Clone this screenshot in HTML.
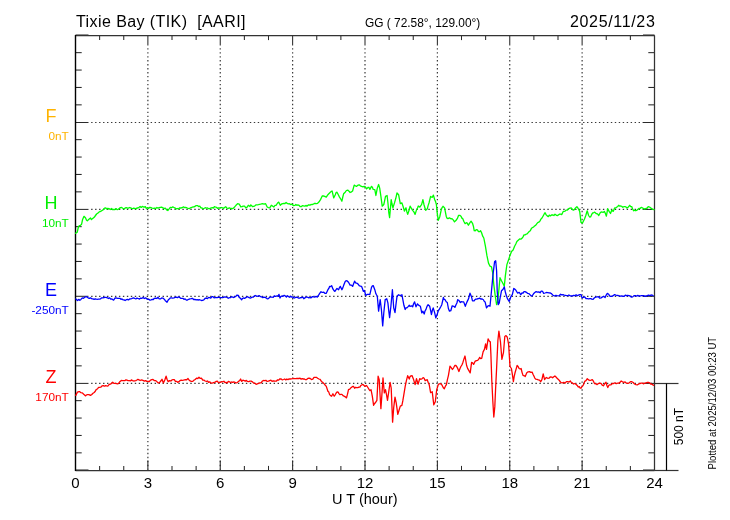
<!DOCTYPE html>
<html><head><meta charset="utf-8"><title>Tixie Bay magnetogram</title><style>
html,body{margin:0;padding:0;background:#fff;width:730px;height:520px;overflow:hidden}
svg{display:block}
text{font-family:"Liberation Sans",Arial,Helvetica,sans-serif;fill:#000}
.dot{stroke:#383838;stroke-width:1.2;fill:none}
.tk{stroke:#2a2a2a;stroke-width:1.05;fill:none}
.fr{stroke:#333;stroke-width:1.25;fill:none}
.frl{stroke:#000;stroke-width:1.4;fill:none}
.sb{stroke:#000;stroke-width:1.2;fill:none}
.sbh{stroke:#333;stroke-width:1.2;fill:none}
.tr{fill:none;stroke-width:1.3;stroke-linejoin:round;stroke-linecap:round}
</style></head><body>
<svg width="730" height="520" viewBox="0 0 730 520">
<g><line x1="91.15" y1="122.50" x2="653.50" y2="122.50" class="dot" stroke-dasharray="1.4 2.567"/>
<line x1="91.15" y1="209.40" x2="653.50" y2="209.40" class="dot" stroke-dasharray="1.4 2.567"/>
<line x1="91.15" y1="296.30" x2="653.50" y2="296.30" class="dot" stroke-dasharray="1.4 2.567"/>
<line x1="91.15" y1="383.40" x2="653.50" y2="383.40" class="dot" stroke-dasharray="1.4 2.567"/>
<line x1="147.88" y1="48.2" x2="147.88" y2="469.5" class="dot" stroke-dasharray="1.4 2.567"/>
<line x1="220.25" y1="48.2" x2="220.25" y2="469.5" class="dot" stroke-dasharray="1.4 2.567"/>
<line x1="292.62" y1="48.2" x2="292.62" y2="469.5" class="dot" stroke-dasharray="1.4 2.567"/>
<line x1="365.00" y1="48.2" x2="365.00" y2="469.5" class="dot" stroke-dasharray="1.4 2.567"/>
<line x1="437.38" y1="48.2" x2="437.38" y2="469.5" class="dot" stroke-dasharray="1.4 2.567"/>
<line x1="509.75" y1="48.2" x2="509.75" y2="469.5" class="dot" stroke-dasharray="1.4 2.567"/>
<line x1="582.12" y1="48.2" x2="582.12" y2="469.5" class="dot" stroke-dasharray="1.4 2.567"/>
<line x1="75.5" y1="35.00" x2="88.5" y2="35.00" class="tk"/>
<line x1="643.0" y1="35.00" x2="654.5" y2="35.00" class="tk"/>
<line x1="75.5" y1="52.65" x2="81.7" y2="52.65" class="tk"/>
<line x1="648.3" y1="52.65" x2="654.5" y2="52.65" class="tk"/>
<line x1="75.5" y1="70.05" x2="81.7" y2="70.05" class="tk"/>
<line x1="648.3" y1="70.05" x2="654.5" y2="70.05" class="tk"/>
<line x1="75.5" y1="87.45" x2="81.7" y2="87.45" class="tk"/>
<line x1="648.3" y1="87.45" x2="654.5" y2="87.45" class="tk"/>
<line x1="75.5" y1="104.85" x2="81.7" y2="104.85" class="tk"/>
<line x1="648.3" y1="104.85" x2="654.5" y2="104.85" class="tk"/>
<line x1="75.5" y1="122.50" x2="88.5" y2="122.50" class="tk"/>
<line x1="643.0" y1="122.50" x2="654.5" y2="122.50" class="tk"/>
<line x1="75.5" y1="139.65" x2="81.7" y2="139.65" class="tk"/>
<line x1="648.3" y1="139.65" x2="654.5" y2="139.65" class="tk"/>
<line x1="75.5" y1="157.05" x2="81.7" y2="157.05" class="tk"/>
<line x1="648.3" y1="157.05" x2="654.5" y2="157.05" class="tk"/>
<line x1="75.5" y1="174.45" x2="81.7" y2="174.45" class="tk"/>
<line x1="648.3" y1="174.45" x2="654.5" y2="174.45" class="tk"/>
<line x1="75.5" y1="191.85" x2="81.7" y2="191.85" class="tk"/>
<line x1="648.3" y1="191.85" x2="654.5" y2="191.85" class="tk"/>
<line x1="75.5" y1="209.40" x2="88.5" y2="209.40" class="tk"/>
<line x1="643.0" y1="209.40" x2="654.5" y2="209.40" class="tk"/>
<line x1="75.5" y1="226.65" x2="81.7" y2="226.65" class="tk"/>
<line x1="648.3" y1="226.65" x2="654.5" y2="226.65" class="tk"/>
<line x1="75.5" y1="244.05" x2="81.7" y2="244.05" class="tk"/>
<line x1="648.3" y1="244.05" x2="654.5" y2="244.05" class="tk"/>
<line x1="75.5" y1="261.45" x2="81.7" y2="261.45" class="tk"/>
<line x1="648.3" y1="261.45" x2="654.5" y2="261.45" class="tk"/>
<line x1="75.5" y1="278.85" x2="81.7" y2="278.85" class="tk"/>
<line x1="648.3" y1="278.85" x2="654.5" y2="278.85" class="tk"/>
<line x1="75.5" y1="296.30" x2="88.5" y2="296.30" class="tk"/>
<line x1="643.0" y1="296.30" x2="654.5" y2="296.30" class="tk"/>
<line x1="75.5" y1="313.65" x2="81.7" y2="313.65" class="tk"/>
<line x1="648.3" y1="313.65" x2="654.5" y2="313.65" class="tk"/>
<line x1="75.5" y1="331.05" x2="81.7" y2="331.05" class="tk"/>
<line x1="648.3" y1="331.05" x2="654.5" y2="331.05" class="tk"/>
<line x1="75.5" y1="348.45" x2="81.7" y2="348.45" class="tk"/>
<line x1="648.3" y1="348.45" x2="654.5" y2="348.45" class="tk"/>
<line x1="75.5" y1="365.85" x2="81.7" y2="365.85" class="tk"/>
<line x1="648.3" y1="365.85" x2="654.5" y2="365.85" class="tk"/>
<line x1="75.5" y1="383.40" x2="88.5" y2="383.40" class="tk"/>
<line x1="643.0" y1="383.40" x2="654.5" y2="383.40" class="tk"/>
<line x1="75.5" y1="400.65" x2="81.7" y2="400.65" class="tk"/>
<line x1="648.3" y1="400.65" x2="654.5" y2="400.65" class="tk"/>
<line x1="75.5" y1="418.05" x2="81.7" y2="418.05" class="tk"/>
<line x1="648.3" y1="418.05" x2="654.5" y2="418.05" class="tk"/>
<line x1="75.5" y1="435.45" x2="81.7" y2="435.45" class="tk"/>
<line x1="648.3" y1="435.45" x2="654.5" y2="435.45" class="tk"/>
<line x1="75.5" y1="452.85" x2="81.7" y2="452.85" class="tk"/>
<line x1="648.3" y1="452.85" x2="654.5" y2="452.85" class="tk"/>
<line x1="75.5" y1="470.00" x2="88.5" y2="470.00" class="tk"/>
<line x1="643.0" y1="470.00" x2="654.5" y2="470.00" class="tk"/>
<line x1="75.50" y1="470.5" x2="75.50" y2="460.5" class="tk"/>
<line x1="75.50" y1="35.5" x2="75.50" y2="45.5" class="tk"/>
<line x1="99.62" y1="470.5" x2="99.62" y2="465.9" class="tk"/>
<line x1="99.62" y1="35.5" x2="99.62" y2="40.1" class="tk"/>
<line x1="123.75" y1="470.5" x2="123.75" y2="465.9" class="tk"/>
<line x1="123.75" y1="35.5" x2="123.75" y2="40.1" class="tk"/>
<line x1="147.88" y1="470.5" x2="147.88" y2="460.5" class="tk"/>
<line x1="147.88" y1="35.5" x2="147.88" y2="45.5" class="tk"/>
<line x1="172.00" y1="470.5" x2="172.00" y2="465.9" class="tk"/>
<line x1="172.00" y1="35.5" x2="172.00" y2="40.1" class="tk"/>
<line x1="196.12" y1="470.5" x2="196.12" y2="465.9" class="tk"/>
<line x1="196.12" y1="35.5" x2="196.12" y2="40.1" class="tk"/>
<line x1="220.25" y1="470.5" x2="220.25" y2="460.5" class="tk"/>
<line x1="220.25" y1="35.5" x2="220.25" y2="45.5" class="tk"/>
<line x1="244.38" y1="470.5" x2="244.38" y2="465.9" class="tk"/>
<line x1="244.38" y1="35.5" x2="244.38" y2="40.1" class="tk"/>
<line x1="268.50" y1="470.5" x2="268.50" y2="465.9" class="tk"/>
<line x1="268.50" y1="35.5" x2="268.50" y2="40.1" class="tk"/>
<line x1="292.62" y1="470.5" x2="292.62" y2="460.5" class="tk"/>
<line x1="292.62" y1="35.5" x2="292.62" y2="45.5" class="tk"/>
<line x1="316.75" y1="470.5" x2="316.75" y2="465.9" class="tk"/>
<line x1="316.75" y1="35.5" x2="316.75" y2="40.1" class="tk"/>
<line x1="340.88" y1="470.5" x2="340.88" y2="465.9" class="tk"/>
<line x1="340.88" y1="35.5" x2="340.88" y2="40.1" class="tk"/>
<line x1="365.00" y1="470.5" x2="365.00" y2="460.5" class="tk"/>
<line x1="365.00" y1="35.5" x2="365.00" y2="45.5" class="tk"/>
<line x1="389.12" y1="470.5" x2="389.12" y2="465.9" class="tk"/>
<line x1="389.12" y1="35.5" x2="389.12" y2="40.1" class="tk"/>
<line x1="413.25" y1="470.5" x2="413.25" y2="465.9" class="tk"/>
<line x1="413.25" y1="35.5" x2="413.25" y2="40.1" class="tk"/>
<line x1="437.38" y1="470.5" x2="437.38" y2="460.5" class="tk"/>
<line x1="437.38" y1="35.5" x2="437.38" y2="45.5" class="tk"/>
<line x1="461.50" y1="470.5" x2="461.50" y2="465.9" class="tk"/>
<line x1="461.50" y1="35.5" x2="461.50" y2="40.1" class="tk"/>
<line x1="485.62" y1="470.5" x2="485.62" y2="465.9" class="tk"/>
<line x1="485.62" y1="35.5" x2="485.62" y2="40.1" class="tk"/>
<line x1="509.75" y1="470.5" x2="509.75" y2="460.5" class="tk"/>
<line x1="509.75" y1="35.5" x2="509.75" y2="45.5" class="tk"/>
<line x1="533.88" y1="470.5" x2="533.88" y2="465.9" class="tk"/>
<line x1="533.88" y1="35.5" x2="533.88" y2="40.1" class="tk"/>
<line x1="558.00" y1="470.5" x2="558.00" y2="465.9" class="tk"/>
<line x1="558.00" y1="35.5" x2="558.00" y2="40.1" class="tk"/>
<line x1="582.12" y1="470.5" x2="582.12" y2="460.5" class="tk"/>
<line x1="582.12" y1="35.5" x2="582.12" y2="45.5" class="tk"/>
<line x1="606.25" y1="470.5" x2="606.25" y2="465.9" class="tk"/>
<line x1="606.25" y1="35.5" x2="606.25" y2="40.1" class="tk"/>
<line x1="630.38" y1="470.5" x2="630.38" y2="465.9" class="tk"/>
<line x1="630.38" y1="35.5" x2="630.38" y2="40.1" class="tk"/>
<line x1="654.50" y1="470.5" x2="654.50" y2="460.5" class="tk"/>
<line x1="654.50" y1="35.5" x2="654.50" y2="45.5" class="tk"/>
<line x1="75.5" y1="35.5" x2="654.5" y2="35.5" class="fr"/>
<line x1="75.5" y1="470.5" x2="654.5" y2="470.5" class="fr"/>
<line x1="654.5" y1="35.5" x2="654.5" y2="470.5" class="fr"/>
<line x1="75.5" y1="35.0" x2="75.5" y2="471.0" class="frl"/>
<line x1="654.5" y1="383.5" x2="678.5" y2="383.5" class="sbh"/>
<line x1="654.5" y1="470.5" x2="678.5" y2="470.5" class="sbh"/>
<line x1="666.5" y1="383.5" x2="666.5" y2="470.5" class="sb"/>
<polyline points="75.6,233.3 77.2,232.3 78.4,227.0 79.3,225.7 80.2,225.6 81.6,224.2 82.6,219.5 84.0,216.3 85.6,218.0 86.4,220.0 87.3,220.9 88.9,219.3 90.5,218.0 91.4,219.6 93.0,218.3 94.2,217.3 95.5,215.5 96.6,214.0 97.7,213.3 98.8,212.2 99.9,211.5 100.9,211.3 102.0,210.5 102.8,210.2 103.7,208.9 104.7,208.1 105.8,207.8 106.8,209.1 107.8,208.4 109.0,208.6 110.2,209.5 111.5,208.5 112.7,209.7 113.8,209.4 114.9,209.6 116.0,208.6 117.1,209.6 118.2,209.3 119.3,208.4 120.5,207.6 121.6,207.5 122.8,208.3 124.0,209.0 125.2,208.0 126.3,207.7 127.5,208.1 128.5,208.1 129.6,207.5 130.6,207.9 131.7,208.4 132.7,208.6 133.7,208.2 134.8,208.3 135.8,208.9 136.9,208.0 138.0,208.0 139.1,207.3 140.1,206.4 141.2,207.4 142.3,206.4 143.3,206.8 144.3,207.2 145.3,206.7 146.3,208.4 147.3,207.8 148.5,208.5 149.8,207.3 151.0,207.7 152.2,208.1 153.4,208.4 154.5,208.2 155.7,208.5 156.9,207.5 158.1,208.1 159.2,207.7 160.4,207.3 161.6,207.2 162.9,207.8 164.1,208.6 165.3,208.1 166.6,209.9 167.8,210.5 169.1,208.9 170.3,207.3 171.5,207.7 172.8,206.9 174.0,207.5 175.2,208.1 176.3,208.9 177.4,208.5 178.5,208.9 179.7,207.8 180.9,208.0 182.2,207.7 183.4,206.9 184.4,207.5 185.4,207.3 186.4,207.7 187.4,208.1 188.4,208.4 189.5,208.6 190.5,207.8 191.6,207.5 192.7,207.0 193.8,206.8 194.9,206.5 196.1,205.6 197.4,205.6 198.6,206.6 199.8,206.2 200.9,207.8 202.0,208.0 203.1,208.6 204.2,208.3 205.3,207.7 206.4,208.1 207.6,208.0 208.9,208.8 210.1,208.3 211.3,207.8 212.3,207.7 213.4,208.0 214.4,206.7 215.4,207.0 216.4,207.3 217.4,208.3 218.5,208.0 219.5,208.1 220.5,207.9 221.5,207.5 222.5,207.8 223.5,208.4 224.5,207.5 225.7,206.7 226.9,208.1 228.2,208.3 229.4,207.8 230.4,208.5 231.4,208.4 232.5,208.6 233.5,208.1 234.8,206.7 236.0,205.3 237.6,203.7 239.2,204.2 240.1,205.7 240.9,207.0 242.2,206.5 243.4,206.2 244.6,206.2 245.8,207.8 247.1,207.2 248.3,205.3 249.9,206.5 250.8,204.9 252.4,206.5 253.7,206.3 254.9,205.8 256.1,204.8 257.3,204.9 258.4,204.7 259.5,204.4 260.6,204.2 261.6,203.9 262.6,203.7 263.6,204.0 264.6,204.0 265.6,203.7 267.2,207.0 268.4,207.6 269.7,207.8 271.3,205.3 272.6,206.1 273.8,207.0 275.0,205.3 276.2,205.3 277.4,203.2 278.7,202.1 280.3,205.3 281.6,204.0 282.8,203.7 283.9,203.4 285.0,203.5 286.1,202.5 287.2,203.4 288.3,203.8 289.4,203.7 290.5,204.6 291.6,204.1 292.7,204.9 293.7,205.6 294.8,205.4 295.8,204.5 296.8,205.3 297.9,204.9 299.0,205.3 300.1,206.5 301.2,206.7 302.3,205.6 303.4,205.8 304.9,206.2 305.9,205.4 306.9,206.1 307.9,205.4 308.9,204.7 309.9,205.3 311.0,204.4 312.1,204.6 313.2,204.2 314.3,203.5 315.3,203.5 316.4,203.7 317.6,203.3 318.9,202.1 320.5,199.6 321.4,197.7 322.2,196.0 323.4,195.8 324.7,196.3 326.3,197.1 327.9,194.7 328.8,193.8 329.6,193.0 331.2,191.4 332.1,191.0 333.7,197.9 335.3,194.7 336.1,192.6 337.0,192.2 338.2,194.5 339.5,197.1 340.7,199.0 341.9,201.2 342.8,197.0 343.6,193.8 345.2,192.2 346.4,190.5 347.7,190.1 349.3,191.4 350.1,192.5 351.0,192.2 352.6,191.0 354.2,185.1 355.4,185.8 356.7,186.4 357.9,185.1 359.2,184.8 360.4,185.8 361.6,186.4 362.9,186.9 364.1,186.4 365.4,186.8 366.6,188.9 368.2,187.3 369.0,187.5 369.9,189.4 371.5,186.4 372.4,187.3 373.2,189.4 374.8,189.7 375.9,195.5 377.3,188.1 378.6,184.5 379.7,188.1 380.9,196.3 382.2,206.2 383.8,204.5 384.6,200.8 385.5,196.3 387.1,195.5 388.0,203.5 388.8,212.7 389.6,217.7 391.2,199.6 392.0,204.0 392.9,207.8 394.5,202.9 395.8,198.3 397.0,193.0 398.6,194.7 399.5,199.3 400.3,203.7 401.9,202.9 403.1,206.5 404.4,211.1 406.0,207.8 406.9,211.9 407.7,214.4 408.9,210.8 410.1,206.2 411.4,208.3 412.6,210.3 413.9,211.9 415.1,214.4 416.6,209.6 417.5,208.1 418.3,206.0 419.9,207.1 420.8,205.7 421.6,204.7 422.9,199.7 424.0,204.7 424.9,207.7 425.7,210.4 427.3,208.8 428.1,205.6 429.0,203.0 430.6,196.4 431.5,197.1 432.3,197.3 433.4,195.1 434.7,199.7 435.5,201.4 436.4,204.7 437.2,212.9 438.3,220.3 439.7,217.0 441.3,209.6 442.1,207.6 443.0,206.3 444.6,207.9 446.2,216.2 447.0,218.2 447.9,218.6 449.5,217.8 450.8,218.8 452.0,218.6 453.2,219.9 454.5,221.9 456.1,220.3 457.4,218.4 458.6,215.3 459.8,215.4 461.0,216.2 461.9,218.1 462.7,218.6 463.9,221.5 465.1,223.6 466.0,223.0 466.8,222.7 468.4,225.2 469.8,222.8 471.1,221.2 472.5,223.3 473.4,226.2 474.2,230.7 475.2,230.8 476.3,229.6 477.4,229.9 478.5,231.7 479.6,231.7 480.6,230.7 481.6,232.8 482.7,236.2 483.8,238.0 485.4,246.2 486.9,255.4 488.5,263.1 490.0,266.2 491.5,266.9 492.6,272.3 493.8,284.6 495.4,296.9 496.6,304.6 497.7,301.5 498.8,290.8 500.0,277.7 501.5,280.8 503.1,283.8 504.3,286.2 505.4,275.4 506.9,264.6 508.5,260.0 510.0,255.4 511.5,251.5 513.1,250.0 514.6,246.2 515.8,244.0 516.9,241.5 518.5,240.0 519.6,239.0 520.8,239.2 521.9,238.4 522.9,237.1 524.0,234.9 525.0,234.9 526.1,234.2 527.1,233.9 528.2,232.6 529.2,231.5 530.3,230.7 531.3,228.6 532.4,227.5 533.5,227.1 534.5,226.0 535.6,225.4 536.7,223.8 537.7,222.6 538.8,222.2 539.9,221.1 540.9,219.1 542.0,218.0 543.0,216.2 544.1,214.2 545.1,212.7 546.2,214.9 547.2,215.9 548.3,216.6 549.3,215.1 550.4,215.9 551.5,215.0 552.7,214.8 553.9,215.5 555.0,214.2 556.4,215.3 557.7,215.5 558.6,214.8 559.6,214.1 560.5,214.2 561.8,214.6 563.2,211.4 564.1,211.3 565.1,211.1 566.0,210.1 567.4,210.1 568.7,208.7 570.0,208.1 571.4,208.0 572.5,209.7 573.5,210.1 574.5,209.4 575.5,208.0 576.9,206.6 578.3,208.7 579.7,211.4 581.0,222.4 582.4,223.1 583.5,221.0 584.5,219.0 585.8,215.5 587.2,210.8 588.6,215.5 589.6,217.0 590.6,216.9 591.7,214.4 592.7,212.8 593.7,212.8 594.7,212.1 596.1,213.5 597.5,213.8 598.8,215.5 600.2,212.8 601.2,211.9 602.3,212.1 603.3,212.4 604.3,211.4 605.3,213.3 606.4,216.2 607.7,208.7 609.1,211.4 610.5,213.5 611.8,210.1 613.2,211.4 614.6,208.0 615.6,208.1 616.6,207.3 617.7,206.5 618.7,205.3 619.8,206.2 620.8,206.0 621.8,206.4 622.8,207.3 623.8,206.7 624.9,206.6 625.9,206.9 626.9,208.0 627.8,207.7 628.8,206.4 629.7,205.3 630.7,206.7 631.7,206.6 632.8,209.4 633.8,210.8 634.8,210.2 635.8,210.8 636.8,210.2 637.9,209.4 638.9,208.4 639.9,208.7 640.8,207.7 641.8,207.5 642.7,208.0 644.0,209.0 645.4,208.7 646.3,208.5 647.3,207.9 648.2,206.6 649.5,207.0 650.9,208.0 652.0,208.9 653.0,209.4 654.0,209.6" class="tr" stroke="#00ff00"/>
<polyline points="75.8,298.9 77.4,300.5 79.0,299.4 79.8,300.3 80.7,299.7 82.3,297.8 83.5,298.3 84.8,297.3 85.9,296.7 87.0,296.9 88.1,297.8 89.3,298.4 90.5,297.8 91.8,298.8 93.0,298.9 94.1,299.3 95.2,298.8 96.3,299.2 97.3,299.3 98.3,299.2 99.4,299.1 100.4,298.9 101.7,297.8 102.9,297.8 104.0,297.5 105.1,297.3 106.2,297.3 107.3,297.8 108.4,298.5 109.5,297.8 110.7,299.1 111.9,298.9 112.8,299.6 113.6,300.1 115.2,297.8 116.5,298.0 117.7,298.4 118.8,298.3 119.9,298.3 121.0,299.4 122.0,298.9 123.0,299.9 124.1,299.9 125.1,300.5 126.3,299.7 127.5,299.4 128.5,299.9 129.6,299.0 130.6,298.9 131.6,298.6 132.7,298.2 133.7,297.9 134.8,298.5 135.8,298.9 137.0,298.1 138.2,298.5 139.5,299.1 140.7,298.1 141.9,298.3 143.1,297.4 144.4,298.5 145.6,297.8 146.7,298.8 147.8,299.3 148.9,299.4 150.0,300.1 151.1,299.8 152.2,299.4 153.3,299.5 154.4,298.3 155.5,298.1 156.8,298.5 158.0,297.3 159.2,298.9 160.4,298.9 161.7,297.9 162.9,298.1 164.5,299.4 165.3,300.8 166.2,301.4 167.0,302.2 168.6,299.4 169.4,299.0 170.3,297.8 171.5,297.9 172.7,298.1 173.9,297.8 175.2,297.3 176.3,297.1 177.4,297.7 178.5,296.8 179.6,297.3 180.7,298.4 181.8,298.4 182.9,298.3 184.0,299.4 185.1,298.9 186.3,300.1 187.5,300.0 188.7,299.3 189.9,298.8 191.2,298.7 192.4,298.3 193.7,299.5 194.9,299.3 196.0,299.9 197.1,299.7 198.2,300.0 199.3,299.7 200.3,300.0 201.4,300.5 202.7,300.4 203.9,299.7 205.2,298.3 206.4,298.0 207.5,298.6 208.6,297.4 209.7,297.7 210.8,298.1 211.9,296.7 213.0,296.7 214.1,297.8 215.1,297.7 216.2,297.7 217.3,297.5 218.4,297.4 219.5,297.2 220.6,297.6 221.7,297.7 222.8,297.7 223.9,297.2 225.0,296.9 226.1,297.2 227.2,297.4 228.3,298.3 229.4,297.7 230.5,297.7 231.6,296.6 232.7,297.2 233.9,297.5 235.1,296.7 235.9,296.3 236.8,295.1 238.4,295.5 239.2,297.4 240.1,298.0 241.7,299.7 242.6,298.3 243.4,298.0 244.6,298.3 245.8,297.7 247.1,296.7 248.3,297.2 249.6,297.9 250.8,298.0 252.0,297.2 253.2,297.2 254.4,295.9 255.7,295.5 256.9,296.4 258.2,296.0 259.4,295.7 260.6,296.7 261.7,296.9 262.8,297.6 263.9,297.2 265.0,297.3 266.1,297.8 267.2,298.8 268.4,298.6 269.7,297.2 270.9,297.1 272.1,297.2 273.2,297.3 274.3,295.9 275.4,296.4 276.6,296.0 277.9,296.0 279.0,294.4 280.0,298.0 281.0,296.4 282.0,296.0 283.1,296.3 284.2,295.3 285.3,296.0 286.4,297.0 287.5,295.7 288.6,296.7 289.7,297.3 290.8,296.2 291.9,297.2 293.0,297.0 294.0,298.1 295.1,297.7 296.2,297.2 297.3,297.4 298.4,298.0 299.5,298.2 300.6,297.6 301.7,297.7 302.8,297.0 303.8,298.7 304.9,297.9 305.9,297.2 306.9,297.0 307.9,297.4 308.9,297.8 309.9,297.5 311.1,297.8 312.4,296.6 313.6,296.9 314.8,297.1 316.1,296.3 317.3,297.1 318.9,294.7 319.9,293.1 321.0,291.7 321.9,292.3 322.9,292.4 323.8,292.2 325.1,293.4 326.3,293.3 327.9,289.7 328.8,288.5 329.6,286.4 330.6,286.6 331.6,285.6 332.9,288.9 333.9,290.5 334.9,291.4 335.9,289.9 337.0,288.4 338.6,289.7 339.5,287.6 340.3,286.4 341.9,289.7 342.8,287.9 343.6,285.6 345.2,281.5 346.0,280.8 346.9,280.7 348.5,282.3 350.1,285.1 351.4,285.1 352.6,286.4 353.6,283.7 354.6,281.2 355.6,282.8 356.7,283.2 357.9,283.8 359.2,285.6 360.4,286.1 361.6,286.4 362.5,288.7 363.3,291.4 364.4,290.5 365.8,295.5 367.4,294.3 368.6,294.3 369.9,294.3 371.5,287.3 372.4,285.8 373.2,285.6 374.8,289.7 375.9,293.8 377.3,296.3 378.6,311.1 380.2,299.6 381.4,309.5 382.7,325.9 383.8,312.7 385.2,299.6 386.8,298.8 387.9,302.9 388.8,311.1 389.6,317.7 390.9,306.2 392.4,289.7 393.7,307.8 395.0,312.7 396.0,304.1 397.0,296.3 398.6,294.7 399.6,295.3 400.6,295.5 401.9,294.7 402.9,299.9 403.9,305.3 405.2,309.5 406.0,307.8 406.9,307.8 408.1,306.6 409.3,305.3 410.0,306.3 411.6,305.8 412.7,306.8 413.6,303.7 414.6,301.9 416.0,306.8 417.5,303.9 418.8,305.4 420.4,306.3 421.8,312.9 422.9,311.2 424.2,314.0 425.0,311.0 425.9,309.6 427.0,306.4 428.1,304.7 429.7,306.3 430.5,309.8 431.4,314.5 432.3,310.5 433.2,307.9 434.7,312.9 435.8,317.8 436.8,315.6 438.3,310.7 439.2,309.5 440.1,307.9 441.0,306.3 441.8,304.7 443.4,297.5 444.2,299.4 445.1,299.7 446.2,301.8 447.3,302.5 448.4,308.5 449.5,311.2 450.8,310.7 452.2,305.8 453.8,306.3 454.9,307.4 456.0,304.7 456.9,303.0 457.7,299.7 458.8,300.3 460.4,302.5 461.2,301.7 462.1,301.9 463.7,301.9 465.3,306.3 466.1,304.0 467.0,301.9 468.6,298.6 470.0,293.2 471.4,296.4 472.5,300.8 474.1,300.8 475.0,299.6 475.8,299.2 476.9,299.1 477.9,298.6 478.8,298.6 479.6,298.1 480.7,299.0 481.8,298.8 483.4,299.7 484.2,301.2 485.1,301.9 486.5,307.9 488.0,305.8 489.0,305.6 490.0,306.2 491.5,290.8 493.1,273.8 494.6,261.5 495.7,260.8 496.6,270.8 497.2,290.8 498.2,304.6 499.2,303.1 500.3,296.9 501.5,290.8 503.1,289.2 504.3,286.9 505.4,292.3 506.5,296.2 507.7,299.2 509.2,301.5 510.8,296.9 512.3,294.6 513.8,288.5 514.8,289.1 515.7,290.0 516.7,291.6 517.7,293.1 519.2,292.3 520.8,294.6 522.0,293.0 523.1,293.1 524.0,291.6 525.0,291.6 526.4,292.3 527.7,293.4 529.0,293.6 530.3,295.1 531.2,295.9 532.1,296.0 533.5,293.8 534.8,292.5 536.1,291.6 537.5,292.1 538.8,291.9 540.1,292.8 541.0,291.4 541.9,291.0 542.8,291.7 543.7,293.4 545.0,293.0 546.4,292.5 547.7,292.6 549.0,292.8 550.4,293.0 551.7,293.9 553.0,295.2 554.4,296.0 555.8,295.4 557.1,295.7 558.3,295.9 559.4,295.5 560.6,294.2 561.8,294.9 563.0,294.7 564.2,295.1 565.4,295.3 566.5,295.6 567.7,295.7 568.9,295.0 570.1,295.8 571.3,296.0 572.5,295.9 573.7,295.3 574.9,295.7 576.1,294.8 577.2,295.8 578.4,295.1 579.8,294.6 581.1,294.6 582.0,297.8 583.4,297.4 584.7,296.9 586.0,298.5 587.3,298.7 588.6,298.9 590.0,298.7 590.9,298.6 591.8,299.2 593.1,299.3 594.5,297.8 595.8,297.1 597.1,296.9 598.5,296.7 599.8,298.2 601.1,297.9 602.5,296.9 603.8,296.5 605.1,297.5 606.2,295.1 607.3,293.4 608.7,294.2 609.6,295.9 610.5,296.4 611.9,296.3 613.2,295.7 614.5,294.6 615.8,295.1 617.0,295.3 618.2,295.5 619.4,296.0 620.6,296.1 621.8,295.8 623.0,296.4 624.2,296.3 625.3,295.2 626.5,295.7 627.7,295.4 628.9,295.7 630.1,296.0 631.4,297.2 632.7,296.9 634.0,295.6 635.4,295.7 636.6,296.2 637.8,295.4 639.0,296.0 640.2,296.0 641.3,295.6 642.5,295.7 643.7,295.7 644.9,296.3 646.1,296.0 647.3,295.7 648.5,295.2 649.7,295.7 650.9,295.1 652.0,295.0 653.2,295.7" class="tr" stroke="#0000ff"/>
<polyline points="75.8,395.4 77.4,392.1 79.0,391.6 79.8,391.7 80.7,392.6 82.3,392.9 83.2,393.8 84.0,394.6 85.6,395.9 86.4,395.0 87.3,394.6 88.9,394.6 90.5,395.4 91.8,394.5 93.0,393.2 94.2,392.5 95.3,391.3 96.3,389.4 97.4,389.0 98.6,387.3 99.7,387.3 100.8,387.2 102.0,385.9 103.2,385.6 104.5,386.2 105.6,385.6 106.7,385.9 107.8,386.1 109.0,384.7 110.2,384.1 111.3,383.6 112.7,382.3 114.0,383.4 115.2,383.4 116.5,383.6 117.7,383.9 118.9,382.9 120.1,381.4 121.3,380.4 122.6,380.6 123.7,380.6 124.8,380.7 125.9,379.8 127.0,380.1 128.1,380.7 129.2,380.6 130.3,380.9 131.4,379.9 132.5,380.6 133.6,381.0 134.7,380.8 135.8,380.6 136.9,380.0 137.9,379.3 139.0,379.8 140.1,380.5 141.2,380.0 142.3,380.1 143.4,380.6 144.5,381.1 145.6,380.6 146.8,381.4 148.1,381.4 149.3,381.5 150.6,380.1 151.8,379.6 153.0,379.5 154.2,380.6 155.5,380.6 156.8,381.6 158.0,382.8 159.2,382.9 160.4,381.5 162.0,379.3 163.4,383.0 164.8,380.0 166.1,376.2 167.1,379.5 168.2,381.6 169.6,380.6 170.9,381.0 172.0,379.9 173.2,379.6 174.3,379.6 175.4,381.3 176.6,381.3 177.7,382.3 178.9,381.7 180.1,380.6 181.2,380.1 182.3,380.3 183.4,380.1 184.5,379.8 185.6,379.6 186.7,379.8 188.0,378.5 188.8,379.7 189.7,380.6 190.6,381.1 191.6,381.4 192.8,381.4 194.0,380.1 195.2,379.5 196.5,378.2 197.8,378.5 199.0,377.3 200.2,378.4 201.4,378.2 202.7,380.0 203.9,380.1 205.2,381.0 206.4,381.4 207.5,381.0 208.6,382.3 209.7,381.8 210.8,382.9 211.9,383.2 213.0,382.8 214.1,382.5 215.1,382.2 216.2,381.4 217.3,381.2 218.4,382.6 219.5,382.3 220.6,382.3 221.7,381.6 222.8,381.8 223.9,381.2 225.0,382.7 226.1,382.3 227.2,383.0 228.3,381.3 229.4,381.8 230.5,382.5 231.6,382.0 232.7,382.3 233.8,381.9 234.9,382.3 236.0,382.8 237.2,382.6 238.4,381.4 239.5,380.8 240.6,379.0 241.7,381.4 242.9,380.2 244.2,380.6 245.3,381.1 246.4,380.4 247.5,381.4 248.7,381.6 249.9,381.1 251.2,381.2 252.4,381.8 253.7,383.1 254.9,383.1 256.1,384.3 257.3,383.9 258.6,383.4 259.8,382.8 261.1,382.8 262.3,381.1 263.5,380.5 264.7,380.6 265.9,380.3 267.2,381.4 268.4,381.2 269.7,380.6 270.9,380.2 272.1,381.4 273.2,380.8 274.3,381.0 275.4,381.1 276.5,381.0 277.6,379.8 278.7,380.1 279.9,378.8 281.2,379.0 282.4,379.9 283.6,379.5 284.7,379.0 285.8,379.9 286.9,379.0 288.0,379.7 289.1,378.8 290.2,379.0 291.3,378.8 292.4,378.7 293.5,378.5 294.6,378.7 295.7,378.7 296.8,378.5 297.9,378.5 299.0,378.5 300.1,378.2 301.2,379.2 302.2,378.7 303.3,379.0 304.4,379.0 305.5,379.7 306.6,379.5 307.8,378.4 309.0,378.2 310.2,378.5 311.5,379.5 312.8,379.2 314.0,377.3 315.2,377.3 316.4,377.3 317.6,378.2 318.9,379.0 320.1,379.4 321.4,381.4 322.6,382.3 323.8,383.4 325.1,385.0 326.3,386.4 327.9,391.3 328.8,392.1 329.6,394.6 330.6,395.6 331.6,396.2 332.9,393.8 334.2,396.2 335.2,394.8 336.2,393.0 337.1,391.8 338.1,392.1 339.0,393.6 339.8,394.6 340.9,394.4 341.9,394.3 343.0,395.6 344.1,396.2 345.3,396.8 346.5,397.9 347.5,394.2 348.5,389.7 349.8,389.1 351.0,387.7 352.6,386.4 353.6,386.5 354.6,388.3 355.6,387.3 356.7,387.7 357.8,387.7 358.9,387.2 359.9,387.1 360.8,385.5 362.1,384.7 363.3,384.7 364.9,386.4 365.8,385.9 366.6,385.5 368.2,388.0 369.0,389.4 369.9,390.5 371.0,389.7 372.3,396.2 373.6,405.3 374.5,403.7 375.3,402.8 376.9,400.3 378.1,376.2 379.2,379.8 380.0,394.0 380.9,408.6 381.9,394.6 383.0,377.8 384.3,392.9 385.5,389.7 386.5,394.7 387.5,400.3 388.8,391.3 390.1,382.3 391.2,388.0 392.6,422.2 393.7,407.7 395.0,397.1 396.2,402.8 397.8,414.3 399.1,410.0 400.3,406.1 401.9,405.3 402.8,400.9 403.6,396.2 405.2,386.4 406.4,380.7 407.7,375.7 409.3,379.0 410.0,376.6 411.0,375.9 412.0,375.6 413.6,379.6 415.1,384.6 416.5,378.6 418.1,384.2 419.7,378.6 420.7,379.3 421.7,379.0 423.1,377.6 424.1,378.3 425.2,380.6 426.2,380.2 427.2,379.6 428.2,382.5 429.2,384.6 430.6,392.7 432.2,391.7 433.8,404.8 435.3,401.8 436.7,389.7 438.3,384.6 439.3,383.8 440.3,383.6 441.3,384.2 442.3,385.7 443.3,387.7 444.3,388.7 445.4,386.2 446.4,384.6 447.4,379.6 448.4,375.6 450.0,366.1 451.2,367.7 452.4,369.5 453.6,367.8 454.8,365.5 455.9,365.5 456.9,366.9 457.9,368.9 458.9,371.5 459.9,368.7 460.9,366.5 461.9,365.0 462.9,362.4 463.9,359.1 465.0,356.0 466.6,365.5 467.6,368.4 468.6,370.1 470.2,372.9 471.6,362.4 472.6,362.8 473.6,364.4 475.0,361.4 476.4,360.6 477.7,360.4 478.7,359.2 479.7,357.4 480.7,358.6 481.7,358.4 483.1,351.9 484.4,349.4 485.6,343.8 486.5,349.4 488.1,338.8 489.4,341.3 490.3,341.9 490.9,354.3 491.8,380.6 492.8,400.8 493.8,417.0 494.8,406.9 495.6,388.6 496.5,370.5 497.9,340.2 498.9,331.1 500.5,342.2 501.9,359.4 503.5,352.3 504.8,336.5 506.0,335.6 507.2,337.0 508.6,344.2 510.0,366.5 511.4,368.5 512.4,374.6 513.4,381.6 514.2,376.4 515.1,372.5 516.1,369.1 517.1,365.5 518.1,366.5 519.1,368.5 520.1,369.0 521.1,368.5 522.1,372.6 523.1,375.6 524.2,375.6 525.2,376.6 526.8,372.8 528.1,371.8 529.5,371.6 530.8,372.4 532.1,372.1 533.0,374.3 533.9,376.0 534.8,378.1 535.7,379.2 537.0,379.3 538.4,379.9 539.5,380.2 540.7,381.7 541.9,379.6 543.2,373.9 544.6,379.6 545.5,378.2 546.4,377.5 547.7,378.3 549.0,378.2 549.9,377.2 550.8,376.9 551.7,377.1 552.6,377.8 553.8,376.8 554.9,376.0 556.0,377.0 557.1,378.2 558.4,379.4 559.7,381.0 561.0,382.6 562.4,382.8 563.8,382.4 565.1,383.2 566.4,381.6 567.7,381.7 569.0,382.1 570.4,381.0 571.3,382.5 572.2,382.8 573.5,384.0 574.9,383.5 576.2,384.5 577.5,385.8 578.4,387.0 579.3,386.7 580.2,388.1 581.1,388.1 582.0,386.5 582.9,385.8 583.8,384.0 584.7,381.4 586.0,380.6 587.3,378.7 588.6,379.9 590.0,380.5 591.1,380.1 592.3,379.6 593.4,381.2 594.5,383.5 595.8,383.8 597.1,384.6 598.5,383.4 599.8,383.2 601.0,383.3 602.2,385.1 603.4,385.8 604.7,383.7 606.0,382.3 606.9,385.5 607.8,387.6 608.7,385.5 609.6,384.9 611.0,384.9 612.3,383.5 613.6,383.5 614.9,382.8 616.2,383.7 617.6,383.2 618.8,383.1 620.0,382.4 621.2,381.0 622.5,381.8 623.8,382.3 625.1,381.9 626.5,383.2 627.9,383.4 629.2,382.8 630.5,381.7 631.9,381.7 633.2,382.5 634.5,384.0 635.9,384.7 637.2,384.9 638.5,384.2 639.9,383.5 641.2,383.2 642.5,383.2 643.7,383.8 644.9,383.1 646.1,382.8 647.3,382.5 648.5,382.4 649.7,382.8 650.5,384.0 651.4,384.0 652.5,384.6 653.6,385.3" class="tr" stroke="#ff0000"/>
<text x="76" y="26.5" font-size="16" textLength="169.5" lengthAdjust="spacing" xml:space="preserve">Tixie Bay (TIK)  [AARI]</text>
<text x="365" y="27.2" font-size="11.9">GG ( 72.58°, 129.00°)</text>
<text x="570" y="27.1" font-size="16" textLength="84.8" lengthAdjust="spacing">2025/11/23</text>
<text x="51.1" y="121.8" font-size="18" style="fill:#ffb300" text-anchor="middle">F</text>
<text x="68.8" y="140" font-size="11.8" style="fill:#ffb300" text-anchor="end">0nT</text>
<text x="51.1" y="208.9" font-size="18" style="fill:#00ee00" text-anchor="middle">H</text>
<text x="68.8" y="226.8" font-size="11.8" style="fill:#00ee00" text-anchor="end">10nT</text>
<text x="51.1" y="295.9" font-size="18" style="fill:#0000ff" text-anchor="middle">E</text>
<text x="68.8" y="313.7" font-size="11.8" style="fill:#0000ff" text-anchor="end">-250nT</text>
<text x="51.1" y="383" font-size="18" style="fill:#ff0000" text-anchor="middle">Z</text>
<text x="68.8" y="400.9" font-size="11.8" style="fill:#ff0000" text-anchor="end">170nT</text>
<text x="75.50" y="487.6" font-size="15" text-anchor="middle">0</text>
<text x="147.88" y="487.6" font-size="15" text-anchor="middle">3</text>
<text x="220.25" y="487.6" font-size="15" text-anchor="middle">6</text>
<text x="292.62" y="487.6" font-size="15" text-anchor="middle">9</text>
<text x="365.00" y="487.6" font-size="15" text-anchor="middle">12</text>
<text x="437.38" y="487.6" font-size="15" text-anchor="middle">15</text>
<text x="509.75" y="487.6" font-size="15" text-anchor="middle">18</text>
<text x="582.12" y="487.6" font-size="15" text-anchor="middle">21</text>
<text x="654.50" y="487.6" font-size="15" text-anchor="middle">24</text>
<text x="364.8" y="503.6" font-size="14.5" text-anchor="middle">U T (hour)</text>
<text transform="translate(683.0,426.6) rotate(-90) scale(0.94,1)" font-size="12.8" text-anchor="middle">500 nT</text>
<text transform="translate(716.0,469.4) rotate(-90) scale(0.86,1)" font-size="11.1">Plotted at 2025/12/03 00:23 UT</text></g>
</svg>
</body></html>
